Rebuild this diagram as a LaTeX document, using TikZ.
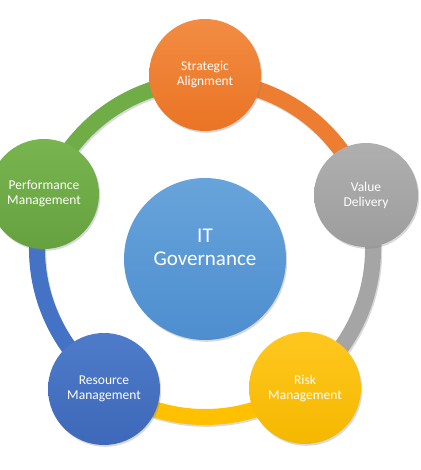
\documentclass[tikz,border=0pt]{standalone}
\usepackage{fontspec}
\setmainfont{Carlito}
\usetikzlibrary{shadows}
\definecolor{cOrange}{HTML}{ED7D31}
\definecolor{cGray}{HTML}{A5A5A5}
\definecolor{cYellow}{HTML}{FFC000}
\definecolor{cBlue}{HTML}{4472C4}
\definecolor{cGreen}{HTML}{70AD47}
\definecolor{oTop}{HTML}{F28C42}
\definecolor{oBot}{HTML}{EA7424}
\definecolor{gTop}{HTML}{AFAFAF}
\definecolor{gBot}{HTML}{9D9D9D}
\definecolor{yTop}{HTML}{FFC71F}
\definecolor{yBot}{HTML}{F5B800}
\definecolor{bTop}{HTML}{4E7BCA}
\definecolor{bBot}{HTML}{3E68B9}
\definecolor{grTop}{HTML}{78B54F}
\definecolor{grBot}{HTML}{66A13F}
\definecolor{lTop}{HTML}{68A4DB}
\definecolor{lBot}{HTML}{4D8ECF}
\begin{document}
\begin{tikzpicture}[x=1pt,y=1pt,
  ringseg/.style={line width=16pt},
  ringshadow/.style={line width=16pt, black, opacity=0.15},
  bubble/.style={circle, inner sep=0pt, text=white, align=center,
    font=\fontsize{13.5}{15}\selectfont,
    drop shadow={opacity=0.3, shadow xshift=1.2pt, shadow yshift=-1.8pt}},
  hub/.style={circle, inner sep=0pt, minimum size=162pt,
    drop shadow={opacity=0.3, shadow xshift=1.2pt, shadow yshift=-1.8pt}},
  hubtext/.style={text=white, align=center, font=\fontsize{21}{23}\selectfont}
]
\useasboundingbox (0,0) rectangle (420,470);
\coordinate (ringc) at (205,221);
\coordinate (ringcs) at (206.2,219.2);
\foreach \a/\b/\c in {162/90/cGreen, 90/18/cOrange, 18/-54/cGray, -54/-126/cYellow, -126/-198/cBlue} {
  \draw[ringshadow] (ringcs) ++(\a:168) arc[start angle=\a, end angle=\b, radius=168];
  \draw[ringseg, \c] (ringc) ++(\a:168) arc[start angle=\a, end angle=\b, radius=168];
}
\node[bubble, minimum size=112pt, top color=oTop, bottom color=oBot] (strat) at (205,395) {Strategic\\Alignment};
\node[bubble, minimum size=104pt, top color=gTop, bottom color=gBot] (value) at (366,275) {Value\\Delivery};
\node[bubble, minimum size=112pt, top color=yTop, bottom color=yBot] (risk) at (305,82) {Risk\\Management};
\node[bubble, minimum size=112pt, top color=bTop, bottom color=bBot] (resource) at (104,81) {Resource\\Management};
\node[bubble, minimum size=110pt, top color=grTop, bottom color=grBot] (perf) at (44,276) {Performance\\Management};
\node[hub, top color=lTop, bottom color=lBot] (it) at (205,211) {};
\node[hubtext] (ittext) at ([yshift=12pt]it.center) {IT\\Governance};
\end{tikzpicture}
\end{document}
